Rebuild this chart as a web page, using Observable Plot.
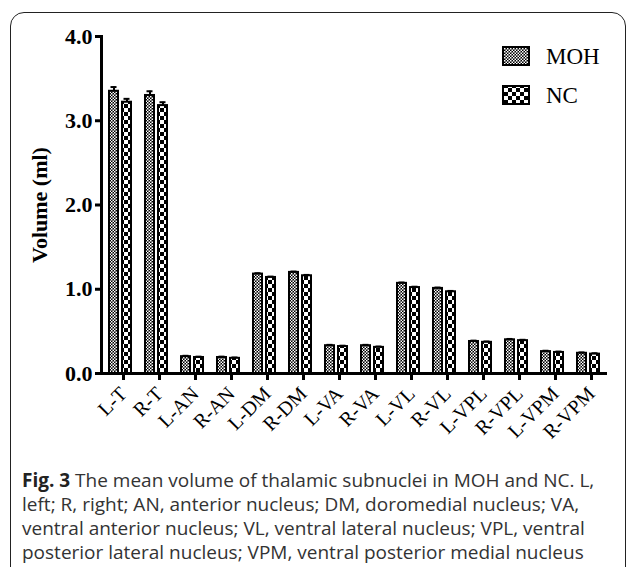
<!DOCTYPE html>
<html>
<head>
<meta charset="utf-8">
<script src="https://cdn.jsdelivr.net/npm/d3@7"></script>
<script src="https://cdn.jsdelivr.net/npm/@observablehq/plot@0.6"></script>
<style>
  html, body { margin: 0; padding: 0; background: #fff; width: 627px; height: 567px; overflow: hidden; }
  #frame { position: absolute; left: 10px; top: 12px; width: 616px; height: 600px; border: 1.5px solid #222; border-radius: 14px; box-sizing: border-box; }
  #chart { position: absolute; left: 0; top: 0; }
  #caption { position: absolute; left: 22px; top: 468px; font-family: "Open Sans", sans-serif; font-size: 19px; line-height: 24px; color: #333; white-space: nowrap; }
  #caption b { color: #222; }
  g[aria-label="y-axis tick label"] text { font-family: "Liberation Serif", serif; font-weight: bold; font-size: 22px; fill: #000; }
  g[aria-label="y-axis label"] text { font-family: "Liberation Serif", serif; font-weight: bold; font-size: 22px; fill: #000; }
  g[aria-label="x-axis tick label"] text { font-family: "Liberation Serif", serif; font-size: 20px; fill: #000; }
</style>
</head>
<body>
<div id="frame"></div>
<div id="chart"></div>
<div id="caption"><b>Fig. 3</b> The mean volume of thalamic subnuclei in MOH and NC. L,<br>left; R, right; AN, anterior nucleus; DM, doromedial nucleus; VA,<br>ventral anterior nucleus; VL, ventral lateral nucleus; VPL, ventral<br>posterior lateral nucleus; VPM, ventral posterior medial nucleus</div>
<script>
const categories = ["L-T","R-T","L-AN","R-AN","L-DM","R-DM","L-VA","R-VA","L-VL","R-VL","L-VPL","R-VPL","L-VPM","R-VPM"];
const mohMean = [3.35, 3.30, 0.20, 0.19, 1.18, 1.20, 0.33, 0.33, 1.07, 1.01, 0.38, 0.40, 0.26, 0.24];
const ncMean  = [3.22, 3.18, 0.19, 0.18, 1.14, 1.16, 0.32, 0.31, 1.02, 0.97, 0.37, 0.39, 0.25, 0.23];
const mohSem  = [0.05, 0.05, 0.01, 0.01, 0.01, 0.01, 0.01, 0.01, 0.01, 0.01, 0.01, 0.01, 0.01, 0.01];
const ncSem   = [0.04, 0.04, 0.01, 0.01, 0.01, 0.01, 0.01, 0.01, 0.01, 0.01, 0.01, 0.01, 0.01, 0.01];
const groups = ["MOH", "NC"];
const yTicks = [0, 1, 2, 3, 4];

const rows = categories.map((c, i) => ({cat: c, moh: mohMean[i], nc: ncMean[i], mohTop: mohMean[i] + mohSem[i], ncTop: ncMean[i] + ncSem[i]}));

const chart = Plot.plot({
  width: 627,
  height: 455,
  marginLeft: 101,
  marginRight: 22,
  marginTop: 36,
  marginBottom: 82,
  x: {domain: categories, padding: 0},
  y: {domain: [0, 4]},
  marks: [
    Plot.ruleX(rows, {x: "cat", y1: "moh", y2: "mohTop", dx: -5.5, stroke: "#000", strokeWidth: 2}),
    Plot.ruleX(rows, {x: "cat", y1: "nc", y2: "ncTop", dx: 7.5, stroke: "#000", strokeWidth: 2}),
    Plot.tickY(rows, {x: "cat", y: "mohTop", insetLeft: 9.5, insetRight: 20.5, stroke: "#000", strokeWidth: 2}),
    Plot.tickY(rows, {x: "cat", y: "ncTop", insetLeft: 22.5, insetRight: 7.5, stroke: "#000", strokeWidth: 2}),
    Plot.barY(rows, {x: "cat", y: "moh", fill: "url(#pMOH)", stroke: "#000", strokeWidth: 2, insetLeft: 8, insetRight: 19}),
    Plot.barY(rows, {x: "cat", y: "nc", fill: "url(#pNC)", stroke: "#000", strokeWidth: 2, insetLeft: 21, insetRight: 6}),
    Plot.axisY({ticks: yTicks, tickFormat: d3.format(".1f"), tickSize: 6, tickPadding: 3, strokeWidth: 3,
                label: "Volume (ml)", labelAnchor: "center", labelArrow: "none", labelOffset: 70}),
    Plot.axisX({tickSize: 7, tickPadding: 10, dx: 4, strokeWidth: 3, tickRotate: -45, label: null}),
    Plot.frame({anchor: "left", strokeWidth: 3}),
    Plot.frame({anchor: "bottom", strokeWidth: 3})
  ]
});

const svg = d3.select(chart);
const defs = svg.insert("defs", ":first-child");
const pm = defs.append("pattern").attr("id", "pMOH").attr("patternUnits", "userSpaceOnUse").attr("width", 3).attr("height", 3);
pm.append("rect").attr("width", 3).attr("height", 3).attr("fill", "#000");
pm.append("rect").attr("x", 0).attr("y", 0).attr("width", 1.5).attr("height", 1.5).attr("fill", "#fff");
pm.append("rect").attr("x", 1.5).attr("y", 1.5).attr("width", 1.5).attr("height", 1.5).attr("fill", "#fff");
const pn = defs.append("pattern").attr("id", "pNC").attr("patternUnits", "userSpaceOnUse").attr("width", 8).attr("height", 8);
pn.append("rect").attr("width", 8).attr("height", 8).attr("fill", "#000");
pn.append("rect").attr("x", 0).attr("y", 0).attr("width", 4).attr("height", 4).attr("fill", "#fff");
pn.append("rect").attr("x", 4).attr("y", 4).attr("width", 4).attr("height", 4).attr("fill", "#fff");

// legend
const lg = svg.append("g").attr("aria-label", "legend");
groups.forEach((g, i) => {
  const y0 = 47 + i * 39;
  lg.append("rect").attr("x", 503).attr("y", y0).attr("width", 26).attr("height", 18)
    .attr("fill", i === 0 ? "url(#pMOH)" : "url(#pNC)").attr("stroke", "#000").attr("stroke-width", 2);
  lg.append("text").attr("x", 546).attr("y", y0 + 17).text(g)
    .attr("text-anchor", "start")
    .attr("font-family", "Liberation Serif, serif").attr("font-size", 23).attr("fill", "#000");
});

document.getElementById("chart").appendChild(chart);
</script>
</body>
</html>
